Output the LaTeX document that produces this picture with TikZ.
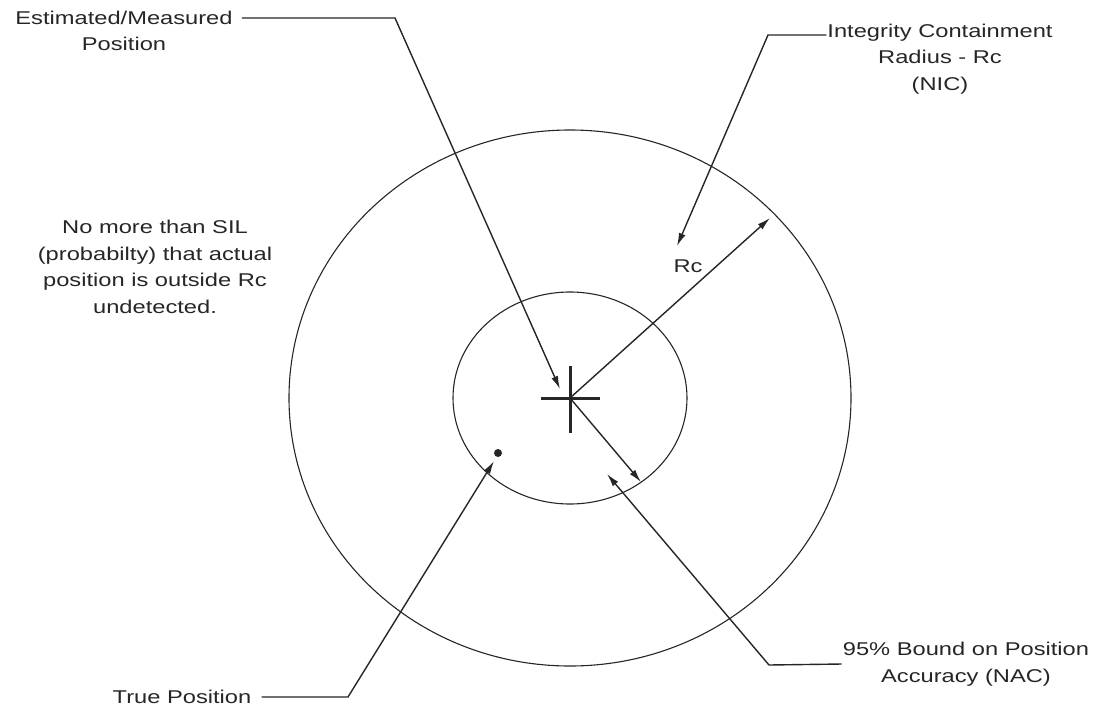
\documentclass[tikz,border=0pt]{standalone}
\usepackage{fontspec}
\setmainfont{Liberation Sans}[FakeStretch=1.28]
\usetikzlibrary{arrows.meta,positioning,calc}
\definecolor{ink}{HTML}{262626}

\begin{document}
\begin{tikzpicture}[x=1pt,y=-1pt,>={Latex[length=13pt,width=7pt]},
  lbl/.style={align=center,text=ink,font=\fontsize{18.5}{26.5}\selectfont,inner ysep=0pt,inner xsep=1pt},
  ptr/.style={->,line width=1.4pt,draw=ink}]
\useasboundingbox (0,0) rectangle (1097,707);
% target rings
\coordinate (ctr) at (570,398);
\draw[ink,line width=1.1pt] (ctr) ellipse [x radius=281,y radius=268];
\draw[ink,line width=1.1pt] (ctr) ellipse [x radius=117,y radius=106];
\draw[ink,line width=3pt] (541,398)--(600,398) (570,366)--(570,433);
\node[circle,fill=ink,inner sep=0pt,minimum size=8pt] (truept) at (498,453){};
% labels
\node[lbl,inner xsep=9pt] (estlbl) at (124,31){Estimated/Measured\\Position};
\node[lbl] (niclbl) at (940,59){Integrity Containment\\Radius - Rc\\(NIC)};
\node[lbl] (sillbl) at (155,267){No more than SIL\\(probabilty) that actual\\position is outside Rc\\undetected.};
\node[lbl] (rclbl) at (688,266){Rc};
\node[lbl,inner xsep=10pt] (truelbl) at (182,697){True Position};
\node[lbl] (naclbl) at (966,664){95\% Bound on Position\\Accuracy (NAC)};
% pointers
\coordinate (estbend) at (395,18);\coordinate (esttip) at (560,389);
\draw[ptr] (estlbl.east |- estbend)--(estbend)--(esttip);
\coordinate (nicbend) at (768,35);\coordinate (nictip) at (677,246);
\draw[ptr] (niclbl.west |- nicbend)--(nicbend)--(nictip);
\coordinate (rctip) at (770,218);\coordinate (acctip) at (641,482);
\draw[ptr] (ctr)--(rctip);\draw[ptr] (ctr)--(acctip);
\coordinate (truebend) at (348,697);\coordinate (truetip) at (494,461);
\draw[ptr] (truelbl.east)--(truebend)--(truetip);
\coordinate (nacbend) at (769,665);\coordinate (nactip) at (607,474);
\draw[ptr] (naclbl.west)--(nacbend)--(nactip);
\end{tikzpicture}
\end{document}
